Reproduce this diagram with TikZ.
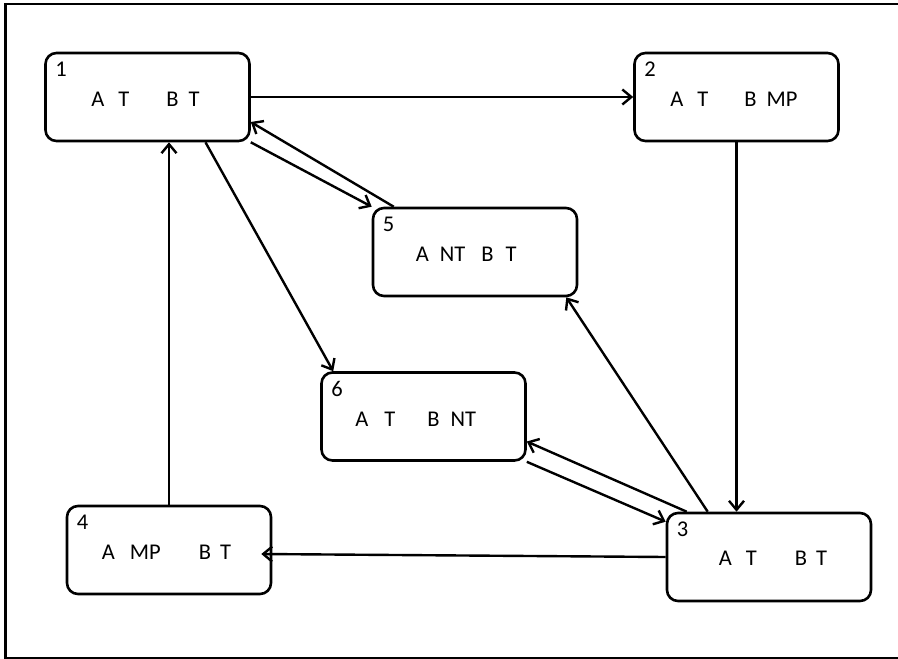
\documentclass[tikz,border=0pt]{standalone}
\usepackage{fontspec}
\setmainfont{Carlito}
\usetikzlibrary{arrows.meta}
\begin{document}
\begin{tikzpicture}[x=1pt,y=-1pt,
  state/.style={draw, line width=2.6pt, rounded corners=11pt,
    minimum width=204pt, minimum height=88pt, inner sep=0pt},
  num/.style={anchor=base west, inner sep=0pt, font=\fontsize{22.5}{26}\selectfont},
  pair/.style={anchor=base west, inner sep=0pt, font=\fontsize{22.5}{26}\selectfont},
  arr/.style={line width=2.4pt, -{Straight Barb[length=9pt,width=15pt,line width=2.4pt]}}]
  \useasboundingbox (0,0) rectangle (898,659);
  \draw[line width=2.6pt] (898,4) -- (5.5,4) -- (5.5,658) -- (898,658);

  % states
  \node[state] (s1) at (147.5,97) {};
  \node[state] (s2) at (736.5,97) {};
  \node[state] (s5) at (475,252) {};
  \node[state] (s6) at (423.5,416.5) {};
  \node[state] (s4) at (169,550) {};
  \node[state] (s3) at (769,557) {};

  \node[num] (n1) at ([shift={(11,25)}]s1.north west) {1};
  \node[num] (n2) at ([shift={(11,25)}]s2.north west) {2};
  \node[num] (n3) at ([shift={(11,25)}]s3.north west) {3};
  \node[num] (n4) at ([shift={(11,25)}]s4.north west) {4};
  \node[num] (n5) at ([shift={(11,25)}]s5.north west) {5};
  \node[num] (n6) at ([shift={(11,25)}]s6.north west) {6};

  \node[pair] (t1) at ([shift={(47,55)}]s1.north west)
    {A\hspace{14pt}T\hspace{37pt}B\hspace{10pt}T};
  \node[pair] (t2) at ([shift={(37,55)}]s2.north west)
    {A\hspace{14pt}T\hspace{36pt}B\hspace{10pt}MP};
  \node[pair] (t5) at ([shift={(44,55)}]s5.north west)
    {A\hspace{11pt}NT\hspace{16pt}B\hspace{12pt}T};
  \node[pair] (t6) at ([shift={(35,55)}]s6.north west)
    {A\hspace{16pt}T\hspace{32pt}B\hspace{11pt}NT};
  \node[pair] (t4) at ([shift={(36,55)}]s4.north west)
    {A\hspace{15pt}MP\hspace{38pt}B\hspace{9pt}T};
  \node[pair] (t3) at ([shift={(53,54)}]s3.north west)
    {A\hspace{14pt}T\hspace{38pt}B\hspace{9pt}T};

  % transitions
  \draw[arr] (s1.east) -- (s2.west);
  \draw[arr] (s2.south) -- (s2.south |- s3.north);
  \draw[arr] (s3.west) -- ([shift={(-11,4)}]s4.east);
  \draw[arr] (s4.north) -- (s4.north |- s1.south);
  \draw[arr] (s1.south east) -- (s5.north west);
  \draw[arr] ([shift={(22,0)}]s5.north west) -- ([shift={(0,25)}]s1.east);
  \draw[arr] ([shift={(58,0)}]s1.south) -- ([shift={(13,0)}]s6.north west);
  \draw[arr] ([shift={(42,0)}]s3.north west) -- ([shift={(-12,0)}]s5.south east);
  \draw[arr] (s6.south east) -- ([shift={(0,10)}]s3.north west);
  \draw[arr] ([shift={(21,0)}]s3.north west) -- ([shift={(0,25)}]s6.east);
\end{tikzpicture}
\end{document}
